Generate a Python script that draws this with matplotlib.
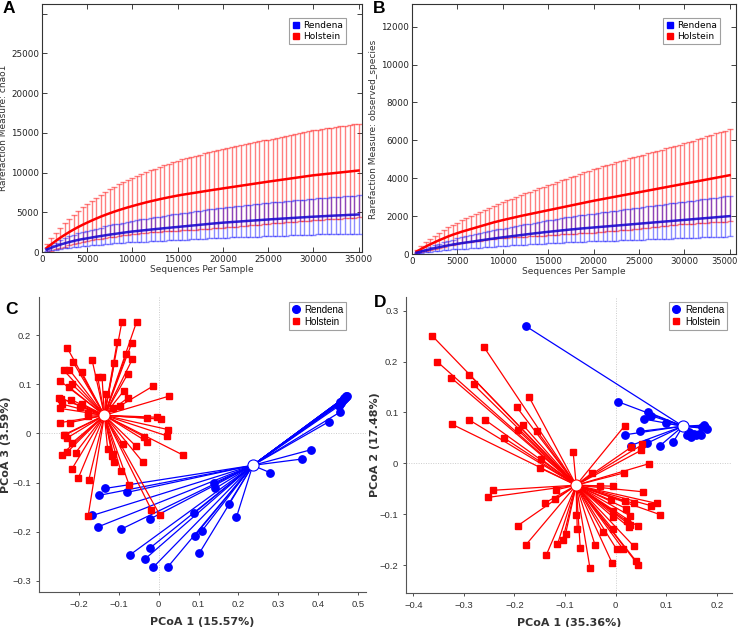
import numpy as np
import matplotlib
matplotlib.use("Agg")
import matplotlib.pyplot as plt
import matplotlib.transforms as mtransforms
from matplotlib.lines import Line2D

# ---------------- Rarefaction data ----------------
seqs = list(range(500, 35001, 500))

chao_hol_mean = [500, 950, 1380, 1780, 2150, 2500, 2830, 3140, 3430, 3700,
                 3960, 4210, 4450, 4670, 4880, 5080, 5270, 5450, 5620, 5780,
                 5940, 6090, 6240, 6380, 6510, 6640, 6760, 6880, 6990, 7100,
                 7200, 7290, 7380, 7470, 7560, 7650, 7740, 7830, 7910, 8000,
                 8085, 8170, 8255, 8340, 8425, 8510, 8595, 8680, 8765, 8850,
                 8930, 9010, 9090, 9170, 9250, 9330, 9410, 9490, 9570, 9650,
                 9710, 9770, 9830, 9890, 9950, 10010, 10070, 10130, 10190, 10250]
chao_hol_sd = [500, 800, 1050, 1280, 1480, 1680, 1860, 2030, 2200, 2350,
               2490, 2630, 2760, 2890, 3010, 3130, 3240, 3350, 3450, 3550,
               3640, 3730, 3820, 3910, 3990, 4070, 4150, 4230, 4320, 4400,
               4460, 4520, 4580, 4640, 4700, 4750, 4800, 4850, 4900, 4950,
               4990, 5020, 5060, 5090, 5130, 5160, 5200, 5230, 5270, 5300,
               5340, 5370, 5410, 5440, 5480, 5510, 5550, 5580, 5620, 5650,
               5680, 5700, 5730, 5750, 5780, 5800, 5830, 5850, 5880, 5900]
chao_ren_mean = [300, 520, 730, 920, 1090, 1250, 1390, 1520, 1630, 1720,
                 1820, 1920, 2010, 2100, 2190, 2270, 2350, 2430, 2510, 2580,
                 2640, 2700, 2760, 2820, 2880, 2930, 2990, 3040, 3100, 3150,
                 3210, 3260, 3320, 3370, 3430, 3480, 3540, 3590, 3640, 3690,
                 3730, 3770, 3810, 3850, 3890, 3930, 3970, 4010, 4050, 4090,
                 4130, 4160, 4200, 4230, 4270, 4300, 4340, 4370, 4410, 4440,
                 4470, 4500, 4530, 4560, 4590, 4610, 4640, 4670, 4690, 4720]
chao_ren_sd = [200, 330, 440, 550, 640, 720, 790, 850, 900, 950,
               990, 1030, 1070, 1110, 1150, 1190, 1230, 1270, 1310, 1350,
               1380, 1410, 1440, 1470, 1500, 1530, 1560, 1590, 1620, 1650,
               1675, 1700, 1725, 1750, 1775, 1800, 1825, 1850, 1875, 1900,
               1920, 1940, 1960, 1980, 2000, 2020, 2040, 2060, 2080, 2100,
               2115, 2130, 2145, 2160, 2175, 2190, 2205, 2220, 2235, 2250,
               2265, 2280, 2295, 2310, 2325, 2340, 2355, 2370, 2385, 2400]

obs_hol_mean = [130, 260, 390, 510, 620, 730, 830, 930, 1020, 1100,
                1180, 1250, 1320, 1390, 1460, 1530, 1600, 1670, 1730, 1790,
                1845, 1900, 1955, 2010, 2060, 2110, 2160, 2210, 2260, 2310,
                2360, 2410, 2460, 2510, 2560, 2610, 2660, 2710, 2760, 2810,
                2855, 2900, 2945, 2990, 3035, 3080, 3125, 3170, 3215, 3260,
                3305, 3350, 3395, 3440, 3485, 3530, 3575, 3620, 3665, 3710,
                3755, 3800, 3845, 3890, 3935, 3980, 4025, 4070, 4115, 4160]
obs_hol_sd = [80, 150, 220, 290, 350, 400, 440, 480, 520, 550,
              590, 630, 670, 710, 750, 790, 830, 870, 905, 940,
              980, 1020, 1060, 1100, 1140, 1175, 1210, 1250, 1285, 1320,
              1355, 1390, 1425, 1460, 1495, 1530, 1565, 1600, 1640, 1680,
              1705, 1730, 1755, 1780, 1805, 1830, 1855, 1880, 1900, 1925,
              1945, 1965, 1985, 2005, 2025, 2045, 2065, 2085, 2105, 2130,
              2160, 2190, 2220, 2250, 2280, 2310, 2340, 2370, 2400, 2430]
obs_ren_mean = [70, 130, 190, 250, 310, 360, 410, 455, 500, 540,
                575, 610, 645, 680, 715, 750, 785, 815, 850, 880,
                910, 940, 970, 1000, 1030, 1060, 1090, 1115, 1145, 1170,
                1195, 1220, 1245, 1270, 1295, 1315, 1340, 1360, 1380, 1400,
                1420, 1440, 1460, 1480, 1500, 1520, 1540, 1560, 1580, 1600,
                1620, 1640, 1660, 1680, 1700, 1720, 1740, 1760, 1780, 1800,
                1820, 1840, 1860, 1880, 1900, 1920, 1940, 1960, 1980, 2000]
obs_ren_sd = [40, 70, 100, 130, 160, 185, 210, 235, 260, 280,
              300, 320, 340, 360, 380, 400, 415, 430, 445, 460,
              475, 490, 505, 520, 535, 550, 565, 580, 595, 610,
              622, 634, 646, 658, 670, 682, 694, 706, 718, 730,
              742, 754, 766, 778, 790, 802, 814, 826, 838, 850,
              861, 872, 883, 894, 905, 916, 927, 938, 949, 960,
              971, 982, 993, 1004, 1015, 1026, 1037, 1048, 1059, 1070]

# ---------------- PCoA data ----------------
c_hol_x = [-0.092, -0.055, -0.104, -0.067, -0.081, -0.066, -0.229, -0.215, -0.167, -0.111,
           -0.193, -0.238, -0.224, -0.153, -0.142, -0.077, -0.247, -0.218, -0.224, -0.013,
           -0.132, -0.088, -0.076, 0.026, -0.249, -0.220, -0.244, -0.243, -0.247, -0.196,
           -0.191, -0.177, -0.098, -0.115, -0.178, -0.028, -0.004, 0.007, -0.247, -0.223,
           0.023, 0.021, -0.234, -0.231, -0.238, -0.218, -0.036, -0.029, -0.229, -0.208,
           -0.128, -0.090, -0.058, -0.114, 0.061, -0.116, -0.111, -0.040, -0.243, -0.218,
           -0.201, -0.175, -0.095, -0.074, -0.018, 0.003, -0.177]
c_hol_y = [0.228, 0.228, 0.186, 0.185, 0.161, 0.151, 0.174, 0.146, 0.150, 0.143,
           0.125, 0.129, 0.130, 0.116, 0.116, 0.122, 0.107, 0.101, 0.094, 0.097,
           0.080, 0.086, 0.073, 0.076, 0.073, 0.069, 0.071, 0.060, 0.051, 0.054,
           0.060, 0.041, 0.056, 0.052, 0.035, 0.031, 0.033, 0.029, 0.022, 0.022,
           0.008, -0.005, -0.003, -0.010, -0.003, -0.020, -0.007, -0.017, -0.038, -0.039,
           -0.031, -0.022, -0.025, -0.041, -0.044, -0.046, -0.058, -0.058, -0.043, -0.073,
           -0.090, -0.094, -0.076, -0.105, -0.156, -0.166, -0.169]
c_ren_x = [0.473, 0.469, 0.466, 0.464, 0.462, 0.459, 0.456, 0.454, 0.452, 0.471,
           0.468, 0.458, 0.456, 0.427, 0.383, 0.360, 0.280, 0.138, 0.142, 0.176,
           0.195, 0.088, 0.090, 0.109, 0.102, -0.021, -0.094, -0.151, -0.166, -0.149,
           -0.134, -0.079, -0.021, -0.073, -0.033, -0.014, 0.023]
c_ren_y = [0.077, 0.075, 0.073, 0.071, 0.069, 0.067, 0.064, 0.060, 0.056, 0.076,
           0.073, 0.063, 0.044, 0.024, -0.033, -0.052, -0.080, -0.101, -0.112, -0.143,
           -0.171, -0.163, -0.209, -0.198, -0.244, -0.174, -0.195, -0.190, -0.167, -0.126,
           -0.112, -0.120, -0.233, -0.248, -0.255, -0.273, -0.272]
c_hol_centroid = (-0.136, 0.037)
c_ren_centroid = (0.236, -0.065)

d_hol_x = [-0.363, -0.260, -0.353, -0.289, -0.325, -0.281, -0.171, -0.196, -0.183, -0.194,
           -0.155, -0.324, -0.289, -0.259, -0.221, -0.148, -0.150, -0.084, -0.242, -0.252,
           -0.117, -0.119, -0.140, -0.194, -0.178, -0.137, -0.115, -0.105, -0.099, -0.078,
           -0.076, -0.070, -0.051, 0.018, 0.053, 0.051, 0.031, 0.065, 0.016, -0.047,
           -0.031, -0.005, 0.054, 0.082, 0.069, 0.088, -0.009, 0.018, 0.036, 0.021,
           0.028, -0.005, -0.005, 0.023, 0.028, 0.044, 0.026, -0.005, -0.026, -0.041,
           0.002, 0.015, 0.036, -0.007, 0.041, 0.044]
d_hol_y = [0.251, 0.228, 0.200, 0.174, 0.168, 0.155, 0.130, 0.111, 0.075, 0.066,
           0.063, 0.077, 0.085, 0.086, 0.050, 0.009, -0.009, 0.022, -0.053, -0.067,
           -0.052, -0.070, -0.078, -0.123, -0.161, -0.180, -0.159, -0.151, -0.139, -0.102,
           -0.130, -0.167, -0.205, 0.074, 0.037, 0.026, 0.032, -0.001, -0.019, -0.019,
           -0.045, -0.045, -0.056, -0.079, -0.083, -0.101, -0.073, -0.075, -0.079, -0.089,
           -0.103, -0.094, -0.106, -0.114, -0.121, -0.124, -0.125, -0.130, -0.135, -0.160,
           -0.169, -0.169, -0.163, -0.196, -0.193, -0.199]
d_ren_x = [-0.178, 0.005, 0.063, 0.069, 0.056, 0.049, 0.018, 0.099, 0.061, 0.087,
           0.114, 0.030, 0.142, 0.148, 0.158, 0.165, 0.175, 0.181, 0.171, 0.145,
           0.155, 0.168, 0.177]
d_ren_y = [0.270, 0.121, 0.101, 0.094, 0.087, 0.063, 0.056, 0.079, 0.039, 0.034,
           0.042, 0.035, 0.056, 0.052, 0.055, 0.058, 0.075, 0.068, 0.071, 0.062,
           0.058, 0.055, 0.071]
d_hol_centroid = (-0.078, -0.043)
d_ren_centroid = (0.133, 0.073)

groups = ["Rendena", "Holstein"]
col_ren = "#0000ff"
col_hol = "#ff0000"

W, H = 740, 627
fig = plt.figure(figsize=(W / 100, H / 100), dpi=100)


def ax_px(l, t, r, b):
    return fig.add_axes([l / W, 1 - b / H, (r - l) / W, (b - t) / H])


def rarefaction(ax, ren_m, ren_s, hol_m, hol_s, ylabel, xmax, ymax, yticks, ylabels):
    x = np.array(seqs)
    ax.errorbar(x, hol_m, yerr=hol_s, fmt="none", ecolor=col_hol, alpha=0.5,
                elinewidth=1.0, capsize=2.2, capthick=1.0, zorder=2)
    ax.errorbar(x, ren_m, yerr=ren_s, fmt="none", ecolor=col_ren, alpha=0.45,
                elinewidth=1.0, capsize=2.2, capthick=1.0, zorder=3)
    ax.plot(x, hol_m, color=col_hol, lw=1.8, zorder=4)
    ax.plot(x, ren_m, color="#1a0ad0", lw=1.8, zorder=5, alpha=0.9)
    ax.set_xlim(0, xmax)
    ax.set_ylim(0, ymax)
    ax.set_xticks(range(0, 35001, 5000))
    ax.set_yticks(yticks)
    ax.set_yticklabels(ylabels)
    ax.tick_params(direction="in", top=True, right=True, length=3.5, width=0.6,
                   labelsize=6.3, pad=2, colors="#222222")
    for s in ax.spines.values():
        s.set_linewidth(0.8)
        s.set_color("#333333")
    ax.set_xlabel("Sequences Per Sample", fontsize=6.5, labelpad=1, color="#333333")
    ax.set_ylabel(ylabel, fontsize=6.5, labelpad=2, color="#333333")
    h = [Line2D([], [], ls="none", marker="s", ms=4.5, color=col_ren, label=groups[0]),
         Line2D([], [], ls="none", marker="s", ms=4.5, color=col_hol, label=groups[1])]
    leg = ax.legend(handles=h, loc="upper right", bbox_to_anchor=(0.96, 0.955),
                    fontsize=6.5, frameon=True, fancybox=False, handlelength=0.8,
                    handletextpad=0.4, borderpad=0.35, labelspacing=0.2,
                    borderaxespad=0.3)
    leg.get_frame().set_edgecolor("#888888")
    leg.get_frame().set_linewidth(0.8)


axA = ax_px(42, 4, 362, 252)
rarefaction(axA, chao_ren_mean, chao_ren_sd, chao_hol_mean, chao_hol_sd,
            "Rarefaction Measure: chao1", 35380, 31200,
            [0, 5000, 10000, 15000, 20000, 25000, 30000],
            ["0", "5000", "10000", "15000", "20000", "25000", ""])
axB = ax_px(412, 4, 736, 254)
rarefaction(axB, obs_ren_mean, obs_ren_sd, obs_hol_mean, obs_hol_sd,
            "Rarefaction Measure: observed_species", 35700, 13200,
            [0, 2000, 4000, 6000, 8000, 10000, 12000],
            ["0", "2000", "4000", "6000", "8000", "10000", "12000"])
last = axB.get_xticklabels()[-1]
last.set_fontsize(6.0)
last.set_transform(last.get_transform() +
                   mtransforms.ScaledTranslation(-5 / 100, 0, fig.dpi_scale_trans))


def pcoa(ax, rx, ry, rc, hx, hy, hc, xlabel, ylabel, xlim, ylim, xticks, yticks,
         ylab_x, leg_x):
    ax.axhline(0, color="#cccccc", lw=0.7, ls=(0, (1, 1.5)), zorder=0)
    ax.axvline(0, color="#cccccc", lw=0.7, ls=(0, (1, 1.5)), zorder=0)
    for px, py in zip(rx, ry):
        ax.plot([rc[0], px], [rc[1], py], color=col_ren, lw=0.9, zorder=1)
    ax.plot(rx, ry, ls="none", marker="o", ms=5.3, color=col_ren, zorder=2)
    for px, py in zip(hx, hy):
        ax.plot([hc[0], px], [hc[1], py], color=col_hol, lw=0.9, zorder=3)
    ax.plot(hx, hy, ls="none", marker="s", ms=4.4, color=col_hol, zorder=4)
    ax.plot([rc[0]], [rc[1]], ls="none", marker="o", ms=8, mfc="white", mec=col_ren,
            mew=0.8, zorder=6)
    ax.plot([hc[0]], [hc[1]], ls="none", marker="o", ms=8, mfc="white", mec=col_hol,
            mew=0.8, zorder=6)
    ax.set_xlim(*xlim)
    ax.set_ylim(*ylim)
    ax.set_xticks(xticks)
    ax.set_yticks(yticks)
    ax.set_xticklabels([("%g" % v).replace("-", "\u2212") for v in xticks])
    ax.set_yticklabels([("%g" % v).replace("-", "\u2212") for v in yticks])
    for s in ["top", "right"]:
        ax.spines[s].set_visible(False)
    for s in ["left", "bottom"]:
        ax.spines[s].set_linewidth(0.8)
        ax.spines[s].set_color("#555555")
    ax.tick_params(direction="out", length=2.5, width=0.6, labelsize=6.8, pad=3,
                   colors="#333333")
    for lab in ax.get_xticklabels() + ax.get_yticklabels():
        lab.set_family("Liberation Sans")
    ax.set_xlabel(xlabel, fontsize=8, fontweight="bold", labelpad=6, color="#333333")
    ax.set_ylabel(ylabel, fontsize=8, fontweight="bold", color="#333333")
    ax.yaxis.set_label_coords(ylab_x, 0.5)
    h = [Line2D([], [], ls="none", marker="o", ms=5.5, color=col_ren, label=groups[0]),
         Line2D([], [], ls="none", marker="s", ms=4.5, color=col_hol, label=groups[1])]
    leg = ax.legend(handles=h, loc="upper right", bbox_to_anchor=(leg_x, 1.0),
                    prop={"family": "Liberation Sans", "size": 7}, frameon=True,
                    fancybox=False, handlelength=0.8, handletextpad=0.5,
                    borderpad=0.3, labelspacing=0.2, borderaxespad=0.5)
    leg.get_frame().set_edgecolor("#888888")
    leg.get_frame().set_linewidth(0.8)


axC = ax_px(39, 297, 366, 592)
pcoa(axC, c_ren_x, c_ren_y, c_ren_centroid, c_hol_x, c_hol_y, c_hol_centroid,
     "PCoA 1 (15.57%)", "PCoA 3 (3.59%)", (-0.3, 0.52), (-0.323, 0.278),
     [-0.2, -0.1, 0, 0.1, 0.2, 0.3, 0.4, 0.5], [-0.3, -0.2, -0.1, 0, 0.1, 0.2],
     -0.085, 0.955)
axD = ax_px(406, 297, 732, 593)
pcoa(axD, d_ren_x, d_ren_y, d_ren_centroid, d_hol_x, d_hol_y, d_hol_centroid,
     "PCoA 1 (35.36%)", "PCoA 2 (17.48%)", (-0.4145, 0.23), (-0.255, 0.327),
     [-0.4, -0.3, -0.2, -0.1, 0, 0.1, 0.2], [-0.2, -0.1, 0, 0.1, 0.2, 0.3],
     -0.08, 1.0)

for lab, (x, y) in zip("ABCD", [(3, 1), (373, 1), (5, 302), (374, 295)]):
    fig.text(x / W, 1 - y / H, lab, fontsize=12.5, fontweight="bold",
             family="Liberation Sans", ha="left", va="top")

fig.savefig("out.png", dpi=100)
